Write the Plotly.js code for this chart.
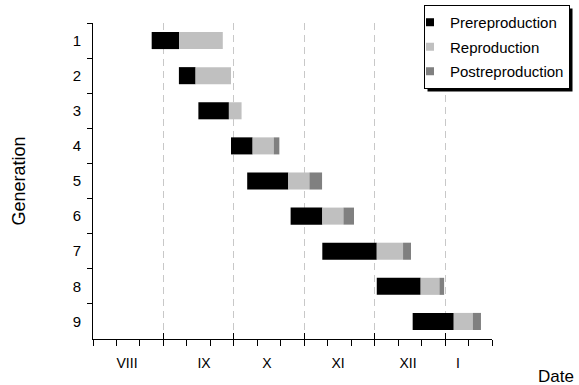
<!DOCTYPE html>
<html><head><meta charset="utf-8">
<script src="https://cdn.plot.ly/plotly-3.0.1.min.js"></script>
<style>html,body{margin:0;padding:0;background:#fff}#chart{width:579px;height:385px}</style>
</head><body><div id="chart"></div>
<script>
// x positions in ten-day periods (dekads) counted from 1 August
const generations = ['1','2','3','4','5','6','7','8','9'];
const startDekad = [2.50, 3.66, 4.49, 5.88, 6.57, 8.42, 9.77, 12.09, 13.62];
const prereproduction = [1.17, 0.71, 1.30, 0.92, 1.75, 1.35, 2.32, 1.87, 1.75];
const reproduction = [1.86, 1.51, 0.54, 0.90, 0.90, 0.90, 1.12, 0.80, 0.81];
const postreproduction = [0, 0, 0, 0.24, 0.54, 0.45, 0.34, 0.20, 0.35];
const monthLabels = ['VIII', 'IX', 'X', 'XI', 'XII', 'I'];
const monthLabelPos = [1.45, 4.73, 7.41, 10.44, 13.42, 15.55];
const monthStarts = [0, 3, 6, 9, 12, 15];
const seriesNames = ['Prereproduction', 'Reproduction', 'Postreproduction'];
const seriesColors = ['#000000', '#c0c0c0', '#808080'];

const baseRep = startDekad.map((s, i) => s + prereproduction[i]);
const basePost = baseRep.map((s, i) => s + reproduction[i]);
const FONT = 'Liberation Sans, Arial, sans-serif';

const barTrace = (vals, base, k) => ({
  type: 'bar', orientation: 'h', y: generations, x: vals, base: base,
  marker: {color: seriesColors[k], line: {width: 0}},
  name: seriesNames[k], showlegend: false, hoverinfo: 'skip'
});
const legendTrace = k => ({
  type: 'scatter', mode: 'markers', x: [null], y: [null], xaxis: 'x2',
  name: seriesNames[k], legendgroup: 'g' + k,
  marker: {symbol: 'square', size: 8, color: seriesColors[k]}
});

const data = [
  barTrace(prereproduction, startDekad, 0),
  barTrace(reproduction, baseRep, 1),
  barTrace(postreproduction, basePost, 2),
  legendTrace(0), legendTrace(1), legendTrace(2),
  {type: 'scatter', mode: 'markers', x: [null], y: [null], xaxis: 'x3', showlegend: false}
];

const layout = {
  width: 579, height: 385,
  margin: {l: 93, r: 87, t: 23, b: 46, pad: 0, autoexpand: false},
  paper_bgcolor: '#ffffff', plot_bgcolor: '#ffffff',
  font: {family: FONT, size: 14, color: '#000000'},
  barmode: 'overlay', bargap: 0.514,
  showlegend: true,
  xaxis: {
    range: [0, 17], tickmode: 'array', tickvals: monthStarts,
    ticks: 'outside', ticklen: 6, tickcolor: '#000', tickwidth: 1,
    showticklabels: false, showline: true, linecolor: '#000', linewidth: 1,
    showgrid: true, gridcolor: '#c8c8c8', gridwidth: 1, griddash: '7px,5px',
    zeroline: false, automargin: false,
    minor: {tick0: 0, dtick: 1, ticks: 'outside', ticklen: 6, tickcolor: '#000', tickwidth: 1, showgrid: false}
  },
  xaxis2: {
    overlaying: 'x', anchor: 'y', side: 'bottom', range: [0, 17],
    tickmode: 'array', tickvals: monthLabelPos, ticktext: monthLabels,
    ticks: '', showline: false, showgrid: false, zeroline: false, automargin: false,
    tickfont: {family: FONT, size: 14}, ticklabelstandoff: 14
  },
  xaxis3: {
    overlaying: 'x', anchor: 'y', side: 'bottom', range: [0, 17],
    tickmode: 'array', tickvals: monthStarts, ticks: 'inside', ticklen: 6, automargin: false,
    tickcolor: '#000', showticklabels: false, showline: false, showgrid: false, zeroline: false
  },
  yaxis: {
    type: 'category', categoryorder: 'array', categoryarray: generations,
    autorange: 'reversed', tickson: 'boundaries', ticks: 'outside', ticklen: 5,
    tickcolor: '#000', showline: true, linecolor: '#000', linewidth: 1,
    showgrid: false, zeroline: false, tickfont: {family: FONT, size: 15},
    ticklabelstandoff: 8, automargin: false,
    title: {text: 'Generation', font: {family: FONT, size: 18}, standoff: 42}
  },
  legend: {
    x: 0.8296, y: 1.057, xanchor: 'left', yanchor: 'top',
    bgcolor: '#ffffff', bordercolor: '#000000', borderwidth: 1,
    font: {family: FONT, size: 15}, traceorder: 'grouped', tracegroupgap: 2,
    indentation: -15
  },
  annotations: [{
    text: 'Date', xref: 'paper', yref: 'paper', x: 1.16, y: -0.12,
    xanchor: 'center', yanchor: 'middle', showarrow: false,
    font: {family: FONT, size: 17}
  }]
};

Plotly.newPlot('chart', data, layout, {displayModeBar: false, staticPlot: true}).then(gd => {
  // drop shadow behind the legend box, offset 3px right and down
  const bg = gd.querySelector('.legend .bg');
  if (!bg) return;
  const r = bg.getBoundingClientRect();
  const c = gd.getBoundingClientRect();
  const s = gd._fullLayout._size;
  const px = v => (v - c.left - s.l) / s.w;
  const py = v => 1 - (v - c.top - s.t) / s.h;
  return Plotly.relayout(gd, {shapes: [{
    type: 'rect', xref: 'paper', yref: 'paper', layer: 'above',
    x0: px(r.left + 3), x1: px(r.right + 3), y0: py(r.bottom + 3), y1: py(r.top + 3),
    fillcolor: '#000000', line: {width: 0}
  }]});
});
</script></body></html>
